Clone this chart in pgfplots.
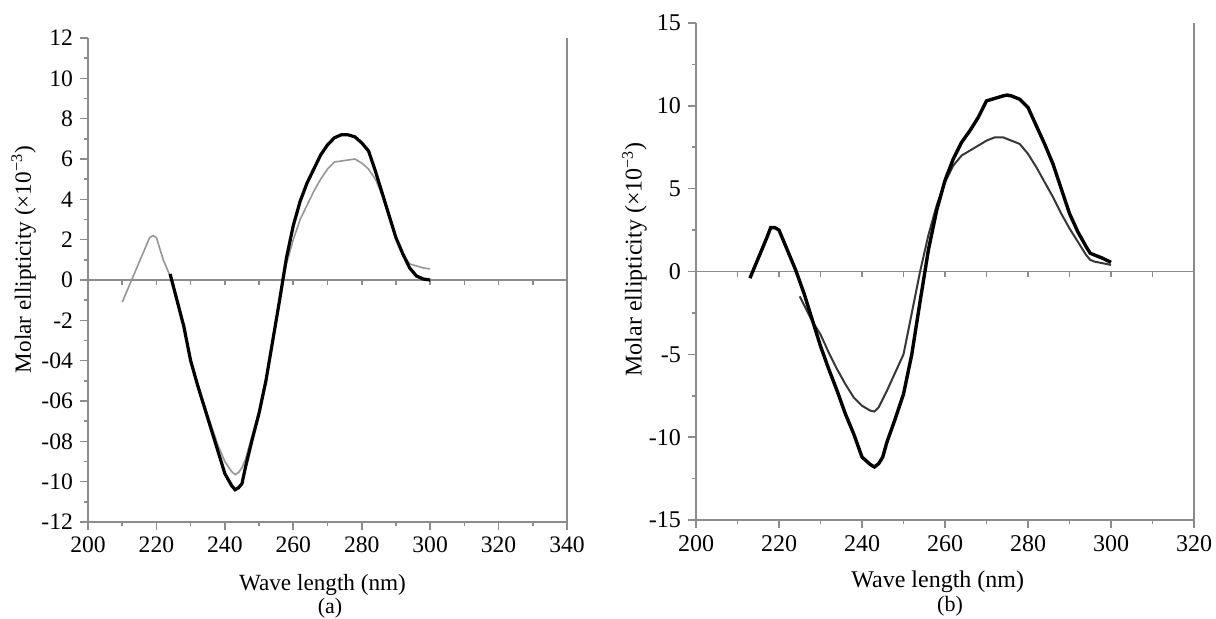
\documentclass[border=0pt]{standalone}
\usepackage{fontspec}
\setmainfont{Liberation Serif}
\usepackage{pgfplots}
\pgfplotsset{compat=1.18}

\definecolor{axgray}{RGB}{140,140,140}
\definecolor{lightcurve}{RGB}{150,150,150}
\definecolor{darkcurve}{RGB}{55,55,55}

\pgfplotsset{
  cdpanel/.style={
    scale only axis,
    axis x line*=bottom,
    axis y line*=left,
    axis line style={axgray, line width=0.9pt},
    every tick/.style={axgray, line width=0.8pt},
    tick align=outside,
    major tick length=4pt,
    minor tick length=2pt,
    minor x tick num=1,
    minor y tick num=1,
    xmin=200,
    xtick distance=20,
    /pgf/number format/assume math mode=true,
    ticklabel style={font=\fontsize{11.8}{13}\selectfont, text=black},
    clip=false,
  },
}

\begin{document}
\begin{tikzpicture}
\useasboundingbox (0,0) rectangle (608pt,-309pt);

% ---- panel (a)
\begin{axis}[
  cdpanel,
  at={(44pt,-261pt)}, anchor=south west,
  width=239.5pt, height=242pt,
  xmax=340, ymin=-12, ymax=12,
  ytick={-12,-10,-8,-6,-4,-2,0,2,4,6,8,10,12},
  yticklabels={-12,-10,-08,-06,-04,-2,0,2,4,6,8,10,12},
]
\draw[axgray, line width=0.9pt] (rel axis cs:1,0) -- (rel axis cs:1,1);
\draw[axgray, line width=0.9pt] (axis cs:200,0) -- (axis cs:340,0);
\pgfplotsinvokeforeach{210,220,...,340}{\draw[axgray, line width=0.8pt] (axis cs:#1,0) -- ([yshift=-2.5pt]axis cs:#1,0);}

\addplot[lightcurve, line width=0.8pt] coordinates {
(210,-1.1) (212,-0.3) (214,0.5) (216,1.3) (218,2.1) (219,2.2) (220,2.1) (222,1.0)
(224,0.2) (226,-0.9) (228,-2.2) (230,-3.9) (232,-5.1) (234,-6.2) (236,-7.2)
(238,-8.2) (240,-9.0) (242,-9.5) (243,-9.65) (244,-9.55) (245,-9.3) (246,-8.9)
(248,-7.7) (250,-6.5) (252,-4.9) (254,-3.0) (256,-1.0) (258,0.8) (260,2.0)
(262,3.0) (264,3.7) (266,4.4) (268,5.0) (270,5.5) (272,5.85) (274,5.9) (276,5.95)
(278,6.0) (280,5.8) (282,5.5) (284,5.0) (286,4.2) (288,3.1) (290,2.1) (292,1.3)
(294,0.8) (296,0.7) (298,0.6) (300,0.55)
};
\addplot[black, line width=1.6pt] coordinates {
(224,0.3) (226,-1.0) (228,-2.3) (230,-4.0) (232,-5.2) (234,-6.3) (236,-7.4)
(238,-8.5) (240,-9.6) (242,-10.2) (243,-10.4) (244,-10.3) (245,-10.1) (246,-9.3)
(248,-7.9) (250,-6.6) (252,-5.0) (254,-3.0) (256,-1.0) (258,1.1) (260,2.7)
(262,3.9) (264,4.8) (266,5.5) (268,6.2) (270,6.7) (272,7.05) (274,7.2) (276,7.2)
(278,7.1) (280,6.8) (282,6.4) (284,5.4) (286,4.3) (288,3.2) (290,2.1) (292,1.3)
(294,0.6) (296,0.2) (298,0.05) (300,0.0)
};
\end{axis}

% ---- panel (b)
\begin{axis}[
  cdpanel,
  at={(348pt,-260pt)}, anchor=south west,
  width=249pt, height=248.5pt,
  xmax=320, ymin=-15, ymax=15,
  ytick={-15,-10,-5,0,5,10,15},
  yticklabels={-15,-10,-5,0,5,10,15},
  ticklabel style={font=\fontsize{12}{13}\selectfont},
]
\draw[axgray, line width=0.9pt] (rel axis cs:1,0) -- (rel axis cs:1,1);
\draw[axgray, line width=0.9pt] (axis cs:200,0) -- (axis cs:320,0);
\pgfplotsinvokeforeach{210,220,...,320}{\draw[axgray, line width=0.8pt] (axis cs:#1,0) -- ([yshift=-2.5pt]axis cs:#1,0);}

\addplot[darkcurve, line width=1pt] coordinates {
(225,-1.5) (226,-2.0) (228,-3.0) (230,-3.8) (232,-4.9) (234,-5.9) (236,-6.8)
(238,-7.6) (240,-8.1) (242,-8.4) (243,-8.45) (244,-8.2) (246,-7.2) (248,-6.1)
(250,-5.0) (252,-2.5) (254,0.0) (256,2.2) (258,4.0) (260,5.4) (262,6.4) (264,7.0)
(266,7.3) (268,7.6) (270,7.9) (272,8.1) (274,8.1) (276,7.9) (278,7.7) (280,7.1)
(282,6.3) (284,5.4) (286,4.5) (288,3.5) (290,2.6) (292,1.8) (294,1.0) (295,0.7)
(296,0.6) (298,0.5) (300,0.4)
};
\addplot[black, line width=1.7pt] coordinates {
(213,-0.4) (215,0.8) (217,2.0) (218,2.65) (219,2.65) (220,2.5) (222,1.3) (224,0.1)
(226,-1.3) (228,-2.9) (230,-4.5) (232,-5.9) (234,-7.2) (236,-8.6) (238,-9.8)
(240,-11.2) (242,-11.65) (243,-11.8) (244,-11.6) (245,-11.2) (246,-10.3) (248,-8.9)
(250,-7.4) (252,-5.0) (254,-1.8) (256,1.3) (258,3.7) (260,5.5) (262,6.8) (264,7.8)
(266,8.5) (268,9.3) (270,10.3) (272,10.45) (274,10.6) (275,10.65) (276,10.6)
(278,10.4) (280,9.9) (282,8.8) (284,7.7) (286,6.5) (288,5.0) (290,3.5) (292,2.4)
(294,1.5) (295,1.1) (296,1.0) (298,0.8) (300,0.55)
};
\end{axis}

% ---- labels
\node[rotate=90, font=\fontsize{11.6}{13}\selectfont] at (11.85pt,-129.75pt) {Molar ellipticity (×10\textsuperscript{−3})};
\node[rotate=90, font=\fontsize{12}{13}\selectfont] at (317.25pt,-129.7pt) {Molar ellipticity (×10\textsuperscript{−3})};
\node[anchor=base, font=\fontsize{11.6}{13}\selectfont] at (161.25pt,-295.35pt) {Wave length (nm)};
\node[anchor=base, font=\fontsize{11}{13}\selectfont] at (165pt,-306.5pt) {(a)};
\node[anchor=base, font=\fontsize{12}{13}\selectfont] at (468.9pt,-293.7pt) {Wave length (nm)};
\node[anchor=base, font=\fontsize{11}{13}\selectfont] at (475pt,-305.7pt) {(b)};
\end{tikzpicture}
\end{document}
